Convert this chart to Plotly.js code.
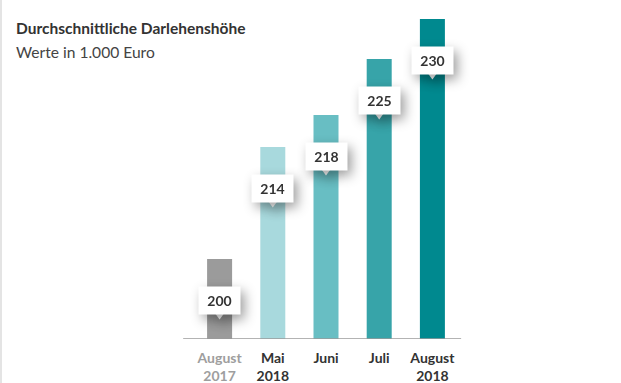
<!DOCTYPE html>
<html>
<head>
<meta charset="utf-8">
<script src="https://cdn.plot.ly/plotly-3.0.1.min.js"></script>
<style>
  html, body { margin: 0; padding: 0; background: #fff; }
  #wrap { position: relative; width: 621px; height: 383px; overflow: hidden; }
  #edge { position: absolute; left: 0; top: 0; width: 2px; height: 383px; background: #e4e4e4; z-index: 5; }
  #chart { width: 621px; height: 383px; }
  .infolayer .annotation.vlabel { filter: drop-shadow(4px 5px 6px rgba(0,0,0,0.38)); }
</style>
</head>
<body>
<div id="wrap"><div id="edge"></div><div id="chart"></div></div>
<script>
// ---- data ----
const categories = ["August 2017", "Mai 2018", "Juni 2018", "Juli 2018", "August 2018"];
const tickLabels = [
  "<span style='color:#9e9e9e'><b>August</b><br><b>2017</b></span>",
  "<b>Mai</b><br><b>2018</b>",
  "<b>Juni</b>",
  "<b>Juli</b>",
  "<b>August</b><br><b>2018</b>"
];
const values = [200, 214, 218, 225, 230];
const barColors = ["#9b9b9b", "#a8d9dd", "#68bec3", "#37a4a9", "#00898f"];
const titleText = "Durchschnittliche Darlehenshöhe";
const subtitleText = "Werte in 1.000 Euro";

const FONT = "Lato, 'Source Sans Pro', 'Open Sans', sans-serif";

const trace = {
  type: "bar",
  x: categories,
  y: values,
  marker: { color: barColors, line: { width: 0 } },
  hoverinfo: "none",
  cliponaxis: false
};

const annotations = values.map((v, i) => ({
  x: categories[i], y: v, xref: "x", yref: "y",
  yshift: -41,
  text: "<b>" + v + "</b>",
  showarrow: false,
  font: { family: FONT, size: 14, color: "#333333" },
  bgcolor: "#ffffff",
  width: 31, height: 17, borderpad: 5,
  xanchor: "center", yanchor: "middle"
}));

annotations.push({
  xref: "paper", yref: "paper", x: -0.6723, y: 0.972,
  xanchor: "left", yanchor: "middle", showarrow: false,
  text: "<b>" + titleText + "</b>",
  font: { family: FONT, size: 15.5, color: "#333333" }
});
annotations.push({
  xref: "paper", yref: "paper", x: -0.6723, y: 0.897,
  xanchor: "left", yanchor: "middle", showarrow: false,
  text: subtitleText,
  font: { family: FONT, size: 15.6, color: "#444444" }
});

const shapes = [{
  type: "line", xref: "paper", yref: "y",
  x0: -0.037, x1: 1.008, y0: 190, y1: 190,
  line: { color: "#9a9a9a", width: 1.5 }, layer: "above"
}].concat(values.map((v, i) => ({
  type: "path", xref: "x", yref: "y",
  xsizemode: "pixel", ysizemode: "pixel",
  xanchor: categories[i], yanchor: v,
  path: "M-5.5,-53 L5.5,-53 L0,-60.5 Z",
  fillcolor: "#ffffff", line: { width: 0 }, layer: "above"
})));

const layout = {
  width: 621, height: 383,
  margin: { l: 193, r: 162, t: 19, b: 44 },
  paper_bgcolor: "#ffffff", plot_bgcolor: "#ffffff",
  showlegend: false,
  bargap: 0.53,
  xaxis: {
    type: "category",
    tickvals: categories, ticktext: tickLabels,
    showgrid: false, zeroline: false, showline: false,
    ticks: "outside", ticklen: 6, tickcolor: "rgba(0,0,0,0)",
    tickfont: { family: FONT, size: 14, color: "#333333" },
    fixedrange: true
  },
  yaxis: {
    range: [190, 230], showgrid: false, zeroline: false, showline: false,
    showticklabels: false, ticks: "", fixedrange: true
  },
  annotations: annotations,
  shapes: shapes,
  font: { family: FONT }
};

Plotly.newPlot("chart", [trace], layout, { displayModeBar: false, staticPlot: true }).then(() => {
  document.querySelectorAll(".infolayer .annotation").forEach((g, i) => {
    if (i < values.length) g.classList.add("vlabel");
  });
  document.querySelectorAll(".shapelayer path").forEach(p => {
    const f = p.style.fill || p.getAttribute("fill") || "";
    if (f.indexOf("255, 255, 255") >= 0 || f === "#ffffff") {
      p.style.filter = "drop-shadow(4px 5px 6px rgba(0,0,0,0.38))";
    }
  });
});
</script>
</body>
</html>
